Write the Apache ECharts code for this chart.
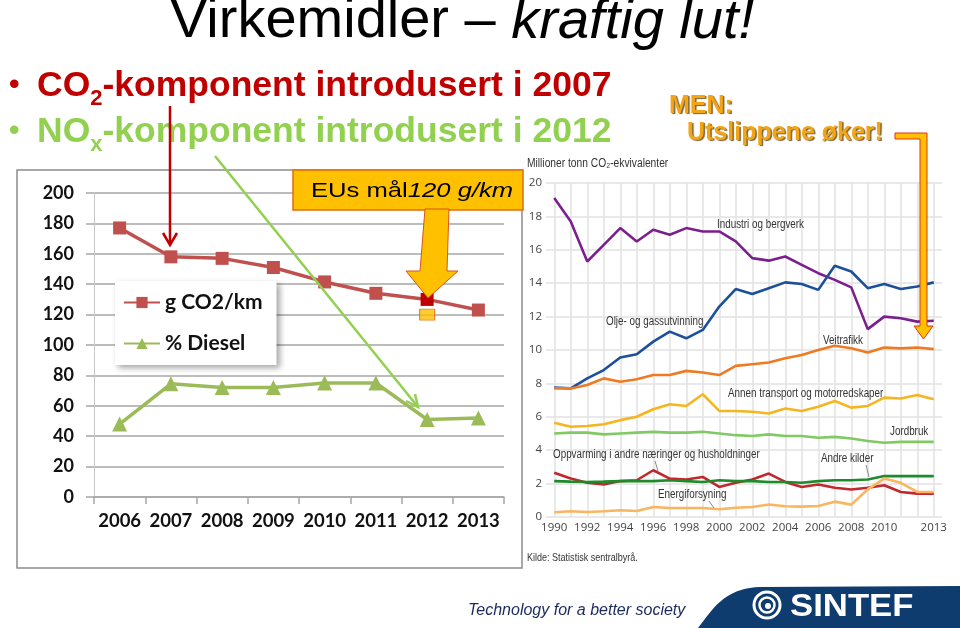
<!DOCTYPE html>
<html><head><meta charset="utf-8">
<script src="https://cdn.jsdelivr.net/npm/echarts@6/dist/echarts.min.js"></script>
<style>html,body{margin:0;padding:0;background:#fff}#c{width:960px;height:628px}</style>
</head><body><div id="c"></div>
<script>
// ---- Left chart data ----
const leftYears = ['2006','2007','2008','2009','2010','2011','2012','2013'];
const co2Values = [177, 158, 157, 151, 141.5, 134, 130, 123];
const dieselValues = [48, 74.5, 72, 72, 75, 75, 51, 52];
const euTargetValues = [null, null, null, null, null, null, 120, null];
const highlightYear = '2012';

// ---- Right chart data (Millioner tonn CO2-ekvivalenter) ----
const ssbYears = ['1990','1991','1992','1993','1994','1995','1996','1997','1998','1999','2000','2001','2002','2003','2004','2005','2006','2007','2008','2009','2010','2011','2012','2013'];
const ssbLabelYears = ['1990','1992','1994','1996','1998','2000','2002','2004','2006','2008','2010','2013'];
const industri = [19.1,17.7,15.3,16.3,17.3,16.5,17.2,16.9,17.3,17.1,17.1,16.5,15.5,15.35,15.6,15.1,14.6,14.2,13.75,11.25,12.0,11.9,11.7,11.75];
const oljeGass = [7.75,7.7,8.3,8.8,9.55,9.75,10.5,11.1,10.7,11.2,12.6,13.65,13.35,13.7,14.05,13.95,13.6,15.05,14.7,13.7,13.95,13.65,13.8,14.05];
const veitrafikk = [7.7,7.7,7.9,8.3,8.1,8.25,8.5,8.5,8.75,8.65,8.5,9.05,9.15,9.25,9.5,9.7,10.0,10.25,10.1,9.85,10.15,10.1,10.15,10.05];
const annenTransport = [5.65,5.4,5.45,5.55,5.8,6.0,6.45,6.75,6.65,7.35,6.35,6.35,6.3,6.2,6.5,6.35,6.6,6.95,6.55,6.65,7.15,7.1,7.3,7.05];
const jordbruk = [5.0,5.05,5.05,4.95,5.0,5.05,5.1,5.05,5.05,5.1,5.0,4.9,4.85,4.95,4.85,4.85,4.75,4.8,4.7,4.55,4.45,4.5,4.5,4.5];
const oppvarming = [2.65,2.3,2.05,1.95,2.15,2.2,2.8,2.3,2.25,2.4,1.8,2.05,2.25,2.6,2.1,1.8,1.95,1.75,1.65,1.75,1.9,1.5,1.4,1.4];
const andreKilder = [2.15,2.12,2.1,2.12,2.15,2.15,2.15,2.2,2.15,2.1,2.2,2.15,2.15,2.1,2.1,2.05,2.15,2.2,2.2,2.25,2.45,2.45,2.45,2.45];
const energiforsyning = [0.28,0.34,0.3,0.34,0.4,0.36,0.6,0.54,0.54,0.54,0.46,0.55,0.6,0.75,0.64,0.62,0.66,0.92,0.74,1.65,2.3,2.05,1.5,1.5];

const chart = echarts.init(document.getElementById('c'), null, {renderer:'canvas'});

const hlIdx = leftYears.indexOf(highlightYear);
const co2Data = co2Values.map((v,i)=> i===hlIdx ? {value:v, itemStyle:{color:'#C00000'}} : v);

const ARIAL = '"Liberation Sans",Arial,sans-serif';
const CAL = 'Lato,"Open Sans",sans-serif';

function ssbLine(name, data, color){
  return {name, type:'line', xAxisIndex:1, yAxisIndex:1, data, symbol:'none', silent:true,
    lineStyle:{color, width:2.6}, itemStyle:{color}, z:3};
}
function narrow(text, x, y, size){
  return {type:'text', x, y, z:50, silent:true, scaleX:0.82,
    style:{text, font:(size||12)+'px '+ARIAL, fill:'#333', textAlign:'left', textVerticalAlign:'middle'}};
}
// footer swoosh outline (decorative)
const swoosh = [];
for (let k=0;k<=20;k++){
  const t=k/20, u=1-t;
  swoosh.push([u*u*u*698+3*u*u*t*712+3*u*t*t*724+t*t*t*760, u*u*u*628+3*u*u*t*610+3*u*t*t*588+t*t*t*587]);
}
swoosh.push([960,586],[960,628]);

const option = {
  animation:false,
  backgroundColor:'#fff',
  grid:[
    {left:94, right:456, top:193, bottom:131, containLabel:false},
    {left:546, right:18, top:183, bottom:111, containLabel:false}
  ],
  legend:{
    data:['g CO2/km','% Diesel'], orient:'vertical', left:115, top:281,
    backgroundColor:'#fff', padding:[11,14,11,8], itemGap:20,
    itemWidth:36, itemHeight:14,
    shadowBlur:6, shadowColor:'rgba(0,0,0,0.35)', shadowOffsetX:3, shadowOffsetY:3,
    textStyle:{fontFamily:CAL, fontWeight:'bold', fontSize:21, color:'#111'}
  },
  xAxis:[
    {type:'category', gridIndex:0, data:leftYears, boundaryGap:true,
     axisLine:{lineStyle:{color:'#a6a6a6', width:1.5}},
     axisTick:{show:true, length:7, lineStyle:{color:'#a6a6a6', width:1.5}},
     axisLabel:{fontFamily:CAL, fontWeight:'bold', fontSize:18.5, color:'#111', margin:15, interval:0, hideOverlap:false},
     splitLine:{show:false}},
    {type:'category', gridIndex:1, data:ssbYears, boundaryGap:true,
     axisLine:{show:false}, axisTick:{show:false},
     axisLabel:{fontFamily:'"Open Sans",sans-serif', fontSize:11.5, color:'#444', margin:5,
       interval:(i,v)=> ssbLabelYears.indexOf(v) >= 0},
     splitLine:{show:true, interval:0, alignWithLabel:true, lineStyle:{color:'#e2e2e2', width:1.5}}}
  ],
  yAxis:[
    {type:'value', gridIndex:0, min:0, max:200, interval:20,
     axisLine:{show:true, lineStyle:{color:'#c8c8c8', width:1}},
     axisTick:{show:true, length:8, lineStyle:{color:'#a6a6a6', width:1.5}},
     axisLabel:{fontFamily:CAL, fontWeight:'bold', fontSize:18, color:'#111', margin:20},
     splitLine:{lineStyle:{color:'#a6a6a6', width:1.5}}},
    {type:'value', gridIndex:1, min:0, max:20, interval:2,
     axisLine:{show:false}, axisTick:{show:false},
     axisLabel:{fontFamily:'"Open Sans",sans-serif', fontSize:11.5, color:'#444', margin:4},
     splitLine:{lineStyle:{color:'#e2e2e2', width:1.5}}}
  ],
  series:[
    ssbLine('Industri og bergverk', industri, '#7b1f8e'),
    ssbLine('Olje- og gassutvinning', oljeGass, '#1c4f9c'),
    ssbLine('Veitrafikk', veitrafikk, '#ee7b22'),
    ssbLine('Annen transport og motorredskaper', annenTransport, '#f6b51d'),
    ssbLine('Jordbruk', jordbruk, '#80c963'),
    ssbLine('Oppvarming i andre næringer og husholdninger', oppvarming, '#c1272d'),
    ssbLine('Andre kilder', andreKilder, '#1e8a2a'),
    ssbLine('Energiforsyning', energiforsyning, '#f9b560'),
    {name:'g CO2/km', type:'line', xAxisIndex:0, yAxisIndex:0, data:co2Data,
     symbol:'rect', symbolSize:13, lineStyle:{color:'#C0504D', width:3.5}, itemStyle:{color:'#C0504D'}, z:5},
    {name:'% Diesel', type:'line', xAxisIndex:0, yAxisIndex:0, data:dieselValues,
     symbol:'triangle', symbolSize:15, lineStyle:{color:'#9BBB59', width:3.5}, itemStyle:{color:'#9BBB59'}, z:5},
    {name:'EU-mål', type:'scatter', xAxisIndex:0, yAxisIndex:0, data:euTargetValues,
     symbol:'rect', symbolSize:[15,11], itemStyle:{color:'#FFC000', borderColor:'#E46C0A', borderWidth:1}, z:6}
  ],
  graphic:[
    {type:'rect', z:-1, silent:true, shape:{x:17, y:170, width:505, height:398}, style:{fill:'none', stroke:'#8c8c8c', lineWidth:1.5}},
    {type:'text', x:462, y:22, z:50, silent:true, style:{
      text:'{n|Virkemidler – }{i|kraftig lut!}', textAlign:'center', textVerticalAlign:'middle',
      rich:{n:{font:'56px '+ARIAL, fill:'#000'}, i:{font:'italic 56px '+ARIAL, fill:'#000'}}}},
    {type:'text', x:9, y:86, z:50, silent:true, style:{text:'•', font:'bold 30px '+ARIAL, fill:'#C00000', textVerticalAlign:'middle'}},
    {type:'text', x:9, y:132, z:50, silent:true, style:{text:'•', font:'bold 30px '+ARIAL, fill:'#92D050', textVerticalAlign:'middle'}},
    {type:'text', x:37, y:86, z:50, silent:true, style:{
      text:'{a|CO}{s|2}{a|-komponent introdusert i 2007}', textAlign:'left', textVerticalAlign:'middle',
      rich:{a:{font:'bold 35.5px '+ARIAL, fill:'#C00000', lineHeight:48}, s:{font:'bold 22px '+ARIAL, fill:'#C00000', lineHeight:24, verticalAlign:'bottom'}}}},
    {type:'text', x:37, y:132, z:50, silent:true, style:{
      text:'{a|NO}{s|x}{a|-komponent introdusert i 2012}', textAlign:'left', textVerticalAlign:'middle',
      rich:{a:{font:'bold 35.5px '+ARIAL, fill:'#92D050', lineHeight:48}, s:{font:'bold 22px '+ARIAL, fill:'#92D050', lineHeight:24, verticalAlign:'bottom'}}}},
    {type:'text', x:669, y:106, z:50, silent:true, style:{text:'MEN:', font:'bold 25px '+ARIAL, fill:'#F2A516', textVerticalAlign:'middle',
      textShadowColor:'rgba(90,60,0,0.8)', textShadowOffsetX:1.5, textShadowOffsetY:1.5, textShadowBlur:1}},
    {type:'text', x:687, y:133, z:50, silent:true, style:{text:'Utslippene øker!', font:'bold 25px '+ARIAL, fill:'#F2A516', textVerticalAlign:'middle',
      textShadowColor:'rgba(90,60,0,0.8)', textShadowOffsetX:1.5, textShadowOffsetY:1.5, textShadowBlur:1}},
    {type:'polygon', z:60, silent:true, shape:{points:[[895,133],[927,133],[927,326],[933,326],[923.5,339],[914,326],[920,326],[920,139],[895,139]]},
      style:{fill:'#FFC000', stroke:'#E0301E', lineWidth:1}},
    {type:'rect', z:55, silent:true, shape:{x:293, y:170, width:230, height:40}, style:{fill:'#FFC000', stroke:'#E46C0A', lineWidth:1.5}},
    {type:'text', x:311, y:191, z:56, silent:true, scaleX:1.22, style:{
      text:'{n|EUs mål}{i|120 g/km}', textAlign:'left', textVerticalAlign:'middle',
      rich:{n:{font:'21px '+ARIAL, fill:'#000'}, i:{font:'italic 21px '+ARIAL, fill:'#000'}}}},
    {type:'polygon', z:60, silent:true, shape:{points:[[425,209],[449,209],[447,271],[458,271],[428,298],[406,271],[420,271]]},
      style:{fill:'#FFC000', stroke:'#D9541E', lineWidth:1}},
    {type:'polyline', z:60, silent:true, shape:{points:[[170,106],[170,244]]}, style:{stroke:'#C00000', lineWidth:2.5}},
    {type:'polyline', z:60, silent:true, shape:{points:[[163,233],[170,245],[177,233]]}, style:{stroke:'#C00000', lineWidth:2.5, fill:'none'}},
    {type:'polyline', z:60, silent:true, shape:{points:[[215,156],[418,407]]}, style:{stroke:'#92D050', lineWidth:2.5}},
    {type:'polyline', z:60, silent:true, shape:{points:[[415,394],[418,407],[406,401]]}, style:{stroke:'#92D050', lineWidth:2.5, fill:'none'}},
    narrow('Millioner tonn CO₂-ekvivalenter', 527, 164, 12.5),
    narrow('Kilde: Statistisk sentralbyrå.', 527, 558, 11),
    narrow('Industri og bergverk', 717, 225),
    narrow('Olje- og gassutvinning', 606, 322),
    narrow('Veitrafikk', 823, 341),
    narrow('Annen transport og motorredskaper', 728, 394),
    narrow('Jordbruk', 890, 432),
    narrow('Oppvarming i andre næringer og husholdninger', 553, 455),
    narrow('Andre kilder', 821, 459),
    narrow('Energiforsyning', 658, 495),
    {type:'polyline', z:50, silent:true, shape:{points:[[655,461],[658,471]]}, style:{stroke:'#888', lineWidth:1}},
    {type:'polyline', z:50, silent:true, shape:{points:[[866,465],[869,477]]}, style:{stroke:'#888', lineWidth:1}},
    {type:'polyline', z:50, silent:true, shape:{points:[[709,501],[714,508]]}, style:{stroke:'#888', lineWidth:1}},
    {type:'text', x:468, y:611, z:50, silent:true, style:{text:'Technology for a better society', font:'italic 16px '+ARIAL, fill:'#1c2a5e', textVerticalAlign:'middle'}},
    {type:'polygon', z:40, silent:true, shape:{points:swoosh}, style:{fill:'#0f3c6e'}},
    {type:'circle', z:45, silent:true, shape:{cx:767, cy:605, r:13}, style:{fill:'none', stroke:'#fff', lineWidth:3}},
    {type:'circle', z:45, silent:true, shape:{cx:767, cy:605, r:7.5}, style:{fill:'none', stroke:'#fff', lineWidth:2.5}},
    {type:'circle', z:45, silent:true, shape:{cx:768, cy:606, r:3}, style:{fill:'#fff'}},
    {type:'text', x:790, y:607, z:50, silent:true, scaleX:1.12, style:{text:'SINTEF', font:'bold 31px '+ARIAL, fill:'#fff', textVerticalAlign:'middle'}}
  ]
};
chart.setOption(option);
</script>
</body></html>
